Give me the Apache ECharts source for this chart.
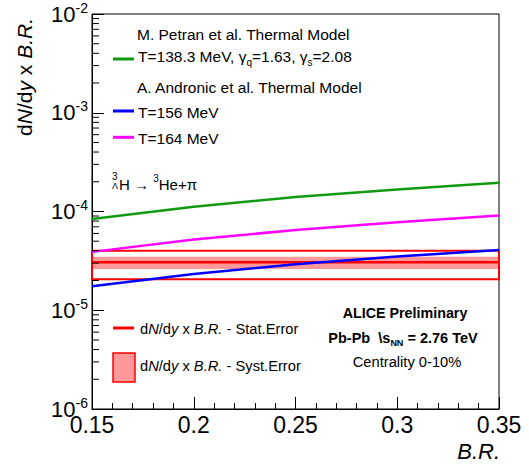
<!DOCTYPE html>
<html><head><meta charset="utf-8">
<script src="https://cdn.jsdelivr.net/npm/echarts@6/dist/echarts.min.js"></script>
<style>html,body{margin:0;padding:0;background:#fff}#c{width:529px;height:467px}</style>
</head><body><div id="c"></div>
<script>
// ---- data ----
const branchingRatio = [0.15, 0.20, 0.25, 0.30, 0.35];
const petranT138 = [8.4e-5, 1.12e-4, 1.40e-4, 1.67e-4, 1.95e-4];
const andronicT156 = [1.75e-5, 2.33e-5, 2.92e-5, 3.5e-5, 4.07e-5];
const andronicT164 = [3.9e-5, 5.2e-5, 6.5e-5, 7.8e-5, 9.1e-5];
const measuredRange = [0.15, 0.35];
const measuredValue = 3.06e-5;
const statErrorBand = [2.06e-5, 4.0e-5];
const systErrorBand = [2.62e-5, 3.48e-5];
const xRange = [0.15, 0.35];
const xTickStep = 0.05;
const yRange = [1e-6, 1e-2];
const minorMultipliers = [2, 3, 4, 5, 6, 7, 8, 9];
const yDecadeStarts = [1e-6, 1e-5, 1e-4, 1e-3];

const F = '"Liberation Sans", Arial, Helvetica, sans-serif';
const fnt = (size, style, weight) => (style || 'normal') + ' ' + (weight || 'normal') + ' ' + size + 'px ' + F;

const minorTickValues = [];
yDecadeStarts.forEach(d => minorMultipliers.forEach(m => minorTickValues.push([xRange[0], m * d])));

const zip = (xs, ys) => xs.map((x, i) => [x, ys[i]]);

const chart = echarts.init(document.getElementById('c'), null, {renderer: 'svg'});

function rectItem(fillStyle) {
  return function (params, api) {
    const p1 = api.coord([api.value(0), api.value(3)]);
    const p2 = api.coord([api.value(1), api.value(2)]);
    return {type: 'rect', shape: {x: p1[0], y: p1[1], width: p2[0] - p1[0], height: p2[1] - p1[1]}, style: fillStyle};
  };
}

const lineSeries = (name, data, color) => ({
  type: 'line', name, data, symbol: 'none', silent: true,
  lineStyle: {color, width: 2.5}, z: 5
});

const italicRich = size => ({
  i: {font: fnt(size, 'italic')},
  n: {font: fnt(size)}
});

const graphics = [];
// y title
graphics.push({type: 'text', x: 24, y: 18, rotation: Math.PI / 2,
  style: {text: '{n|d}{i|N}{n|/d}{i|y}{n| x }{i|B.R.}', textAlign: 'right', textVerticalAlign: 'middle', fill: '#000', font: fnt(21), rich: italicRich(21)}});
// x title
graphics.push({type: 'text', x: 500, y: 451,
  style: {text: 'B.R.', textAlign: 'right', textVerticalAlign: 'middle', fill: '#000', font: fnt(22, 'italic')}});

// top legend
const LX = 137;
graphics.push({type: 'text', x: LX, y: 34, style: {text: 'M. Petran et al. Thermal Model', textVerticalAlign: 'middle', fill: '#000', font: fnt(15.5)}});
graphics.push({type: 'line', shape: {x1: 113, y1: 59, x2: 134, y2: 59}, style: {stroke: '#129912', lineWidth: 3}});
graphics.push({type: 'text', x: LX + 1, y: 56, style: {
  text: '{m|T=138.3 MeV, }{m|γ}{s|q}{m|=1.63, }{m|γ}{s|s}{m|=2.08}', textVerticalAlign: 'middle', fill: '#000', font: fnt(15.5),
  rich: {m: {font: fnt(15.5), lineHeight: 22}, s: {font: fnt(10), lineHeight: 10, verticalAlign: 'bottom'}}}});
graphics.push({type: 'text', x: LX, y: 87.5, style: {text: 'A. Andronic et al. Thermal Model', textVerticalAlign: 'middle', fill: '#000', font: fnt(15.5)}});
graphics.push({type: 'line', shape: {x1: 113, y1: 111, x2: 134, y2: 111}, style: {stroke: '#0000ff', lineWidth: 3}});
graphics.push({type: 'text', x: LX + 1, y: 112.5, style: {text: 'T=156 MeV', textVerticalAlign: 'middle', fill: '#000', font: fnt(15.5)}});
graphics.push({type: 'line', shape: {x1: 113, y1: 137.3, x2: 134, y2: 137.3}, style: {stroke: '#ff00ff', lineWidth: 3}});
graphics.push({type: 'text', x: LX + 1, y: 138.5, style: {text: 'T=164 MeV', textVerticalAlign: 'middle', fill: '#000', font: fnt(15.5)}});

// decay label
graphics.push({type: 'text', x: 112, y: 176, style: {text: '3', textVerticalAlign: 'middle', fill: '#000', font: fnt(10)}});
graphics.push({type: 'text', x: 112, y: 186, style: {text: 'Λ', textVerticalAlign: 'middle', fill: '#000', font: fnt(9)}});
graphics.push({type: 'text', x: 119, y: 184, style: {
  text: '{m|H → }{p|3}{m|He+π}', textVerticalAlign: 'middle', fill: '#000', font: fnt(15),
  rich: {m: {font: fnt(15), lineHeight: 22}, p: {font: fnt(10), lineHeight: 10, verticalAlign: 'top'}}}});

// bottom-left legend
graphics.push({type: 'line', shape: {x1: 113, y1: 328, x2: 134, y2: 328}, style: {stroke: '#ff0000', lineWidth: 3}});
graphics.push({type: 'text', x: 140, y: 329, style: {
  text: '{n|d}{i|N}{n|/d}{i|y}{n| x }{i|B.R.}{n| - Stat.Error}', textVerticalAlign: 'middle', fill: '#000', font: fnt(14.7), rich: italicRich(14.7)}});
graphics.push({type: 'rect', shape: {x: 113, y: 353, width: 22, height: 29}, style: {fill: '#ff9999', stroke: '#ff0000', lineWidth: 1.5}});
graphics.push({type: 'text', x: 140, y: 366, style: {
  text: '{n|d}{i|N}{n|/d}{i|y}{n| x }{i|B.R.}{n| - Syst.Error}', textVerticalAlign: 'middle', fill: '#000', font: fnt(14.7), rich: italicRich(14.7)}});

// ALICE labels
graphics.push({type: 'text', x: 405, y: 312.5, style: {text: 'ALICE Preliminary', textAlign: 'center', textVerticalAlign: 'middle', fill: '#000', font: fnt(14.3, 'normal', 'bold')}});
graphics.push({type: 'text', x: 403, y: 337.5, style: {
  text: '{b|Pb-Pb  \\}{b|s}{s|NN}{b| = 2.76 TeV}', textAlign: 'center', textVerticalAlign: 'middle', fill: '#000', font: fnt(14.5, 'normal', 'bold'),
  rich: {b: {font: fnt(14.5, 'normal', 'bold'), lineHeight: 20}, s: {font: fnt(9, 'normal', 'bold'), lineHeight: 9, verticalAlign: 'bottom'}}}});
graphics.push({type: 'text', x: 407, y: 361.5, style: {text: 'Centrality 0-10%', textAlign: 'center', textVerticalAlign: 'middle', fill: '#000', font: fnt(14.7)}});

const option = {
  animation: false,
  backgroundColor: '#fff',
  grid: {left: 92, right: 30, top: 14, bottom: 58, show: true, borderColor: '#000', borderWidth: 1, backgroundColor: 'transparent'},
  xAxis: {
    type: 'value', min: xRange[0], max: xRange[1], interval: xTickStep,
    axisLine: {show: true, lineStyle: {color: '#000', width: 1}},
    axisTick: {show: true, inside: true, length: 12, lineStyle: {color: '#000', width: 1}},
    minorTick: {show: true, splitNumber: 5, length: 6, lineStyle: {color: '#000', width: 1}},
    splitLine: {show: false},
    axisLabel: {fontSize: 23, fontFamily: F, color: '#000', margin: 4,
      formatter: v => String(parseFloat(v.toFixed(2)))}
  },
  yAxis: {
    type: 'log', logBase: 10, min: yRange[0], max: yRange[1],
    axisLine: {show: true, lineStyle: {color: '#000', width: 1}},
    axisTick: {show: true, inside: true, length: 12, lineStyle: {color: '#000', width: 1}},
    minorTick: {show: false},
    splitLine: {show: false},
    axisLabel: {
      margin: 4, color: '#000',
      formatter: v => '{b|10}{s|' + Math.round(Math.log10(v)) + '}',
      rich: {
        b: {fontSize: 22, fontFamily: F, color: '#000', lineHeight: 27},
        s: {fontSize: 14, fontFamily: F, color: '#000', lineHeight: 14, verticalAlign: 'top'}
      }
    }
  },
  series: [
    {type: 'custom', name: 'Syst.Error', silent: true, z: 2, renderItem: rectItem({fill: '#ff9999'}),
      data: [[measuredRange[0], measuredRange[1], systErrorBand[0], systErrorBand[1]]]},
    {type: 'custom', name: 'Stat.Error', silent: true, z: 3, renderItem: rectItem({fill: 'none', stroke: '#ff0000', lineWidth: 2}),
      data: [[measuredRange[0], measuredRange[1], statErrorBand[0], statErrorBand[1]]]},
    {type: 'line', name: 'Measured', data: [[measuredRange[0], measuredValue], [measuredRange[1], measuredValue]], symbol: 'none', silent: true,
      lineStyle: {color: '#ff0000', width: 2.5}, z: 3},
    lineSeries('Petran T=138.3 MeV', zip(branchingRatio, petranT138), '#129912'),
    lineSeries('Andronic T=156 MeV', zip(branchingRatio, andronicT156), '#0000ff'),
    lineSeries('Andronic T=164 MeV', zip(branchingRatio, andronicT164), '#ff00ff'),
    {type: 'custom', name: 'minorTicks', silent: true, z: 6,
      renderItem: function (params, api) {
        const p = api.coord([api.value(0), api.value(1)]);
        return {type: 'line', shape: {x1: p[0], y1: p[1], x2: p[0] + 7, y2: p[1]}, style: {stroke: '#000', lineWidth: 1}};
      },
      encode: {x: 0, y: 1}, data: minorTickValues}
  ]
};
chart.setOption(option);
chart.setOption({graphic: graphics});
</script></body></html>
